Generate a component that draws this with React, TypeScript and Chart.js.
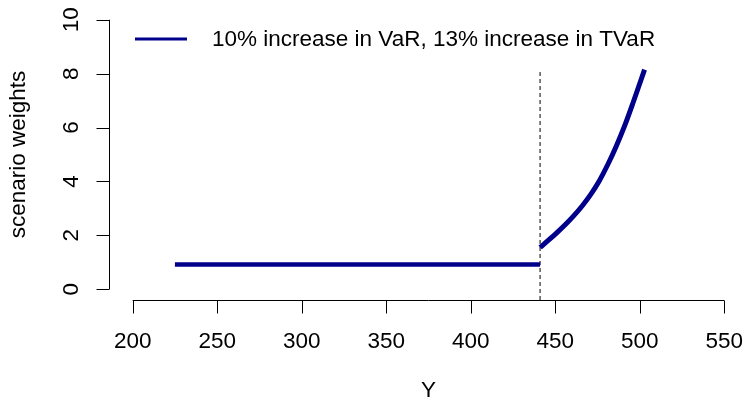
import React, { useEffect, useRef } from "react";
import { Chart, registerables } from "chart.js";

Chart.register(...registerables);

// Flat scenario weights below the VaR level
const flatY: number[] = [225, 441];
const flatWeight: number[] = [0.92, 0.92];

// Increasing scenario weights above the VaR level
const tailY: number[] = [441, 446, 451, 456, 461, 466, 471, 476, 481, 486, 491, 496, 502.8];
const tailWeight: number[] = [1.55, 1.82, 2.1, 2.4, 2.73, 3.1, 3.52, 4.02, 4.62, 5.3, 6.06, 6.92, 8.15];

// Stressed VaR marker
const varLevel = 441;
const varMarkerTop = 8.1;

// Axis ticks and labels
const xTicks: number[] = [200, 250, 300, 350, 400, 450, 500, 550];
const yTicks: number[] = [0, 2, 4, 6, 8, 10];
const xTitle = "Y";
const yTitle = "scenario weights";
const legendLabel = "10% increase in VaR, 13% increase in TVaR";

const LINE_COLOR = "#00008B";
const FONT = '22.5px "Liberation Sans", Arial, Helvetica, sans-serif';

const baseAxesPlugin = {
  id: "baseAxes",
  afterDraw(chart: any) {
    const ctx: CanvasRenderingContext2D = chart.ctx;
    const xs = chart.scales.x;
    const ys = chart.scales.y;
    const area = chart.chartArea;
    const tickLen = 13;
    ctx.save();
    ctx.strokeStyle = "#000";
    ctx.fillStyle = "#000";
    ctx.lineWidth = 1;
    ctx.font = FONT;

    // x axis
    const axY = Math.round(area.bottom) + 0.5;
    const x0 = xs.getPixelForValue(xTicks[0]);
    const x1 = xs.getPixelForValue(xTicks[xTicks.length - 1]);
    ctx.beginPath();
    ctx.moveTo(x0, axY);
    ctx.lineTo(x1, axY);
    xTicks.forEach((t) => {
      const px = Math.round(xs.getPixelForValue(t)) + 0.5;
      ctx.moveTo(px, axY);
      ctx.lineTo(px, axY + tickLen);
    });
    ctx.stroke();
    ctx.textAlign = "center";
    ctx.textBaseline = "middle";
    xTicks.forEach((t) => {
      ctx.fillText(String(t), xs.getPixelForValue(t), 342);
    });
    ctx.fillText(xTitle, (area.left + area.right) / 2, 391);

    // y axis
    const axX = Math.round(area.left) + 0.5;
    const y0 = ys.getPixelForValue(yTicks[0]);
    const y1 = ys.getPixelForValue(yTicks[yTicks.length - 1]);
    ctx.beginPath();
    ctx.moveTo(axX, y0);
    ctx.lineTo(axX, y1);
    yTicks.forEach((t) => {
      const py = Math.round(ys.getPixelForValue(t)) + 0.5;
      ctx.moveTo(axX, py);
      ctx.lineTo(axX - tickLen, py);
    });
    ctx.stroke();
    yTicks.forEach((t) => {
      ctx.save();
      ctx.translate(72, ys.getPixelForValue(t));
      ctx.rotate(-Math.PI / 2);
      ctx.fillText(String(t), 0, 0);
      ctx.restore();
    });
    ctx.save();
    ctx.translate(19, (area.top + area.bottom) / 2);
    ctx.rotate(-Math.PI / 2);
    ctx.fillText(yTitle, 0, 0);
    ctx.restore();

    // legend
    ctx.strokeStyle = LINE_COLOR;
    ctx.lineWidth = 3;
    ctx.beginPath();
    ctx.moveTo(135, 39);
    ctx.lineTo(187, 39);
    ctx.stroke();
    ctx.textAlign = "left";
    ctx.fillText(legendLabel, 212, 40);
    ctx.restore();
  },
};

export default function App() {
  const canvasRef = useRef<HTMLCanvasElement | null>(null);

  useEffect(() => {
    if (!canvasRef.current) return;
    const chart = new Chart(canvasRef.current, {
      type: "scatter",
      data: {
        datasets: [
          {
            label: "flat",
            data: flatY.map((x, i) => ({ x, y: flatWeight[i] })),
            showLine: true,
            borderColor: LINE_COLOR,
            borderWidth: 4.6,
            pointRadius: 0,
            borderCapStyle: "butt",
          },
          {
            label: "tail",
            data: tailY.map((x, i) => ({ x, y: tailWeight[i] })),
            showLine: true,
            borderColor: LINE_COLOR,
            borderWidth: 5,
            pointRadius: 0,
            cubicInterpolationMode: "monotone",
            borderCapStyle: "butt",
          },
          {
            label: "VaR",
            data: [
              { x: varLevel, y: -0.4 },
              { x: varLevel, y: varMarkerTop },
            ],
            showLine: true,
            borderColor: "#000",
            borderWidth: 1,
            borderDash: [4, 3],
            pointRadius: 0,
          },
        ],
      },
      options: {
        responsive: false,
        animation: false,
        devicePixelRatio: 1,
        layout: { padding: { left: 109, right: -2, top: 9, bottom: 102 } },
        plugins: {
          legend: { display: false },
          tooltip: { enabled: false },
        },
        scales: {
          x: { type: "linear", min: 186, max: 564, display: false },
          y: { type: "linear", min: -0.4, max: 10.4, display: false },
        },
      },
      plugins: [baseAxesPlugin],
    });
    return () => chart.destroy();
  }, []);

  return (
    <div style={{ position: "absolute", left: 0, top: 0, width: 748, height: 402, background: "#fff" }}>
      <canvas ref={canvasRef} width={748} height={402} style={{ display: "block" }} />
    </div>
  );
}
